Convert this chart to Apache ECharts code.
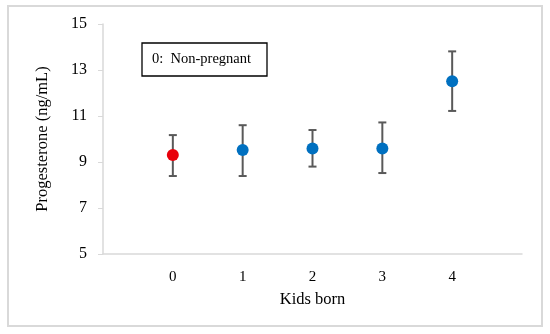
<!DOCTYPE html>
<html><head><meta charset="utf-8">
<script src="https://cdn.jsdelivr.net/npm/echarts@6/dist/echarts.min.js"></script>
<style>html,body{margin:0;padding:0;background:#fff}#c{width:550px;height:334px}</style>
</head><body><div id="c"></div>
<script>
const kids = [0, 1, 2, 3, 4];
const means = [9.30, 9.52, 9.59, 9.59, 12.51];
const lower = [8.39, 8.39, 8.80, 8.52, 11.22];
const upper = [10.17, 10.60, 10.39, 10.72, 13.81];
const pointColors = ['#e8000b', '#0070c0', '#0070c0', '#0070c0', '#0070c0'];
const yTicks = [5, 7, 9, 11, 13, 15];
const legendText = '0:  Non-pregnant';

const font = '"Liberation Serif", "DejaVu Serif", serif';
const chart = echarts.init(document.getElementById('c'));
chart.setOption({
  animation: false,
  backgroundColor: '#fff',
  textStyle: { fontFamily: font },
  grid: { left: 103, right: 28, top: 24, bottom: 80, containLabel: false },
  graphic: [
    { type: 'rect', shape: { x: 8, y: 6, width: 534, height: 320 }, style: { fill: 'none', stroke: '#d9d9d9', lineWidth: 2 }, z: -1 },
    { type: 'rect', shape: { x: 142, y: 43, width: 125, height: 33 }, style: { fill: '#fff', stroke: '#000', lineWidth: 1.3 } },
    { type: 'text', x: 152, y: 59.5, style: { text: legendText, font: '14.5px ' + font, fill: '#000', verticalAlign: 'middle' } }
  ],
  xAxis: {
    type: 'value', min: -1, max: 5, interval: 1,
    name: 'Kids born', nameLocation: 'middle', nameGap: 37,
    nameTextStyle: { fontFamily: font, fontSize: 16.5, color: '#000' },
    axisLine: { show: true, onZero: false, lineStyle: { color: '#d9d9d9', width: 1.5 } },
    axisTick: { show: false },
    splitLine: { show: false },
    axisLabel: { fontFamily: font, fontSize: 15, color: '#000', margin: 16,
      formatter: v => (kids.indexOf(v) >= 0 ? String(v) : '') }
  },
  yAxis: {
    type: 'value', min: yTicks[0], max: yTicks[yTicks.length - 1], interval: 2,
    name: 'Progesterone (ng/mL)', nameLocation: 'middle', nameGap: 52, nameRotate: 90,
    nameTextStyle: { fontFamily: font, fontSize: 16.5, color: '#000' },
    axisLine: { show: true, onZero: false, lineStyle: { color: '#d9d9d9', width: 1.5 } },
    axisTick: { show: true, inside: false, length: 5, lineStyle: { color: '#d9d9d9' } },
    splitLine: { show: false },
    axisLabel: { fontFamily: font, fontSize: 16, color: '#000', margin: 16 }
  },
  series: [
    {
      type: 'custom',
      data: kids.map((k, i) => [k, lower[i], upper[i]]),
      renderItem: function (params, api) {
        const x = api.value(0);
        const lo = api.coord([x, api.value(1)]);
        const hi = api.coord([x, api.value(2)]);
        const cw = 4;
        const st = { stroke: '#595959', lineWidth: 2 };
        return { type: 'group', children: [
          { type: 'line', shape: { x1: lo[0], y1: lo[1], x2: hi[0], y2: hi[1] }, style: st },
          { type: 'line', shape: { x1: lo[0] - cw, y1: lo[1], x2: lo[0] + cw, y2: lo[1] }, style: st },
          { type: 'line', shape: { x1: hi[0] - cw, y1: hi[1], x2: hi[0] + cw, y2: hi[1] }, style: st }
        ] };
      },
      z: 2
    },
    {
      type: 'scatter',
      symbolSize: 12,
      itemStyle: { opacity: 1 },
      data: kids.map((k, i) => ({ value: [k, means[i]], itemStyle: { color: pointColors[i], opacity: 1 } })),
      z: 3
    }
  ]
});
</script></body></html>
